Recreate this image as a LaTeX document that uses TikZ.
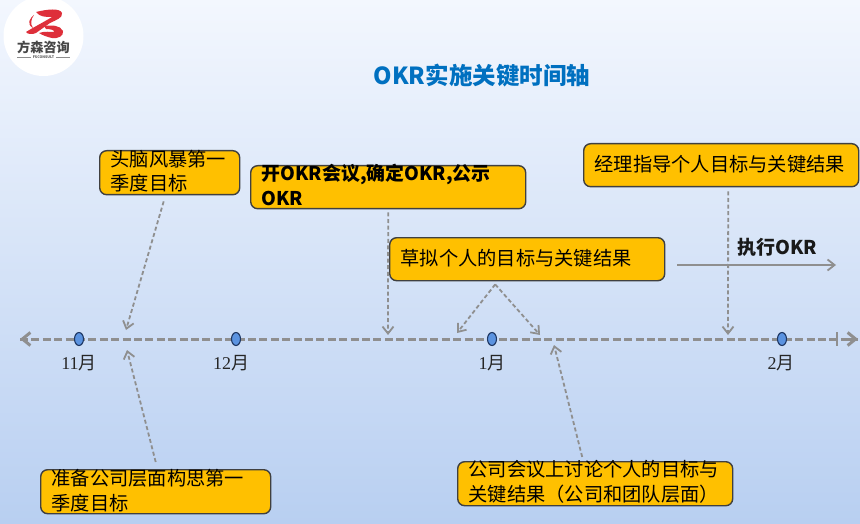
\documentclass[tikz,border=0pt]{standalone}
\usepackage{fontspec}
\setmainfont{Noto Sans CJK SC}
\newfontfamily\numfont{Liberation Serif}
\usetikzlibrary{arrows.meta,calc,shapes.geometric}
\definecolor{boxfill}{HTML}{FFC000}
\definecolor{boxline}{HTML}{404040}
\definecolor{conn}{HTML}{8F8F8F}
\definecolor{dotfill}{HTML}{5B93E0}
\definecolor{dotline}{HTML}{1F3864}
\definecolor{titleblue}{HTML}{0070C0}
\definecolor{logored}{HTML}{DE2F3A}
\definecolor{bgtop}{HTML}{F3F7FE}
\definecolor{bgmid}{HTML}{D6E4F8}
\definecolor{bgbot}{HTML}{B8CFF1}
\newcommand{\boxtxt}[3]{\raisebox{#2}{\smash{\parbox[c]{#1pt}{\fontsize{19.25}{24.6}\selectfont #3}}}}
\tikzset{
  x=1pt,y=-1pt,
  stepbox/.style={draw=boxline,fill=boxfill,line width=1.4pt,rounded corners=7pt,inner sep=0pt,anchor=north west,align=left},
  dashconn/.style={draw=conn,line width=1.8pt,dash pattern=on 4pt off 2.6pt,-{Straight Barb[length=7pt,width=11pt,line width=1.8pt]}},
  solidconn/.style={draw=conn,line width=1.8pt,-{Straight Barb[length=7pt,width=11pt,line width=1.8pt]}},
  axisline/.style={draw=conn,line width=3pt,dash pattern=on 8pt off 3.4pt},
  axistip/.style={draw=conn,line width=3pt,-{Straight Barb[length=8pt,width=13pt,line width=3pt]}},
  monthdot/.style={ellipse,draw=dotline,fill=dotfill,line width=1.1pt,minimum width=9pt,minimum height=13pt,inner sep=0pt},
  monthlabel/.style={font=\fontsize{18}{20}\selectfont,text=black!85,inner sep=0pt},
}
\begin{document}
\begin{tikzpicture}
\useasboundingbox (0,0) rectangle (860,524);
\shade[top color=bgtop,middle color=bgmid,bottom color=bgbot] (0,0) rectangle (860,524);
% logo
\fill[white] (43.5,36) circle (40);
\fill[logored] (36,12) .. controls (48,9) and (60,8) .. (62,13) .. controls (63,18) and (56,20) .. (50,23) -- (36,33) .. controls (32,35) and (27,34) .. (26,32) .. controls (34,27) and (44,22) .. (52,17) .. controls (45,17) and (40,17) .. (36,12) -- cycle;
\fill[logored] (44,26) .. controls (52,25) and (60,25) .. (63,31) .. controls (64,36) and (58,39) .. (52,38) .. controls (47,37) and (42,35) .. (39,33) .. controls (45,31) and (50,32) .. (54,32) .. controls (55,30) and (50,29) .. (46,29) -- cycle;
\fill[logored] (34,15) .. controls (30,18) and (26,24) .. (33,28) .. controls (30,24) and (31,19) .. (34,15) -- cycle;
\node[inner sep=0pt,text=black!72,font=\fontsize{13.2}{14}\selectfont\bfseries] (logotext) at (43.5,47) {方森咨询};
\node[inner sep=0pt,text=black!65,font=\fontsize{3.6}{4}\selectfont\bfseries] (logosub) at (43.5,57.5) {FSCONSULT};
\draw[black!45,line width=.4pt] (17,57.5) -- ([xshift=-1.5pt]logosub.west) ([xshift=1.5pt]logosub.east) -- (70,57.5);
% title
\node[inner sep=0pt,text=titleblue,font=\fontsize{23.5}{26}\selectfont\bfseries] (title) at (482,76) {OKR实施关键时间轴};
% boxes
\node[stepbox,minimum width=140pt,minimum height=44pt] (a) at (99,150) {\boxtxt{118}{-1.5pt}{头脑风暴第一\\季度目标}};
\node[stepbox,minimum width=275pt,minimum height=43pt] (b) at (250,165) {\boxtxt{253}{-0.5pt}{\fontsize{18.9}{24.6}\selectfont\bfseries 开OKR会议,确定OKR,公示\\OKR}};
\node[stepbox,minimum width=275pt,minimum height=43pt] (c) at (389,237) {\boxtxt{253}{-2pt}{草拟个人的目标与关键结果}};
\node[stepbox,minimum width=275pt,minimum height=43pt] (d) at (583,143) {\boxtxt{253}{-2.5pt}{经理指导个人目标与关键结果}};
\node[stepbox,minimum width=230pt,minimum height=44pt] (e) at (40,469) {\boxtxt{208}{-2.5pt}{准备公司层面构思第一\\季度目标}};
\node[stepbox,minimum width=275pt,minimum height=44pt] (f) at (457,461) {\boxtxt{253}{-1.5pt}{公司会议上讨论个人的目标与\\关键结果（公司和团队层面）}};
% axis
\coordinate (axl) at (20,339);
\coordinate (axr) at (858,339);
\coordinate (axlin) at (28,339);
\coordinate (axrin) at (848,339);
\draw[axisline] (axl) -- (axr);
\draw[axistip] (axlin) -- (axl);
\draw[axistip] (axrin) -- (axr);
\coordinate (tk0) at (837,332);
\coordinate (tk1) at (837,346);
\draw[draw=conn,line width=2.7pt] (tk0) -- (tk1);
% months
\foreach \n/\x/\lab/\lx in {m/79/11/79,n/236/12/231,o/492/1/492,p/782/2/781}{
  \node[monthdot] (\n) at (\x,339) {};
  \node[monthlabel] (l\n) at (\lx,363.5) {{\numfont\lab}月};
}
% connector ends
\coordinate (a0) at ([xshift=-6pt,yshift=-6pt]a.south);
\coordinate (a1) at (126,330);
\coordinate (b0) at ([yshift=-3pt]b.south);
\coordinate (b1) at (388,335);
\coordinate (c0) at ([xshift=-32pt,yshift=-3pt]c.south);
\coordinate (c1) at (457,333);
\coordinate (c2) at (540,335);
\coordinate (d0) at ([xshift=7pt,yshift=-4pt]d.south);
\coordinate (d1) at (728,335);
\coordinate (e0) at ([xshift=0pt,yshift=7pt]e.north);
\coordinate (e1) at (127,350);
\coordinate (f0) at ([xshift=-13pt,yshift=4pt]f.north);
\coordinate (f1) at (554,345);
\coordinate (x0) at (677,265);
\coordinate (x1) at (836,265);
\draw[dashconn] (a0) -- (a1);
\draw[dashconn] (b0) -- (b1);
\draw[dashconn] (c0) -- (c1);
\draw[dashconn] (c0) -- (c2);
\draw[dashconn] (d0) -- (d1);
\draw[dashconn] (e0) -- (e1);
\draw[dashconn] (f0) -- (f1);
\draw[solidconn] (x0) -- (x1);
\node[inner sep=0pt,font=\fontsize{19}{21}\selectfont\bfseries,text=black!90] (exec) at (777.5,247) {执行OKR};
\end{tikzpicture}
\end{document}
